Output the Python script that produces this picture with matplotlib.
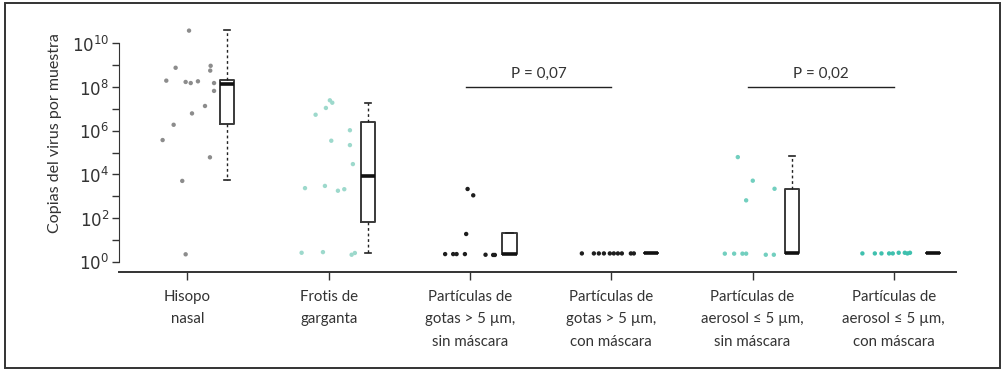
import numpy as np
import matplotlib
matplotlib.use('Agg')
import matplotlib.pyplot as plt
from matplotlib.patches import Rectangle

plt.rcParams['font.family'] = ['Lato', 'DejaVu Sans']

categories = ['Hisopo\nnasal', 'Frotis de\ngarganta',
              'Partículas de\ngotas > 5 µm,\nsin máscara',
              'Partículas de\ngotas > 5 µm,\ncon máscara',
              'Partículas de\naerosol ≤ 5 µm,\nsin máscara',
              'Partículas de\naerosol ≤ 5 µm,\ncon máscara']
colors = ['#8c8c8c', '#9dd9cc', '#1e1e1e', '#1e1e1e', '#72cfbf', '#3fc0ae']

# log10 copies per sample, with horizontal jitter
log_vals = [
    [10.58, 8.88, 8.29, 8.23, 8.18, 8.26, 8.97, 8.75, 8.18, 7.82, 7.13, 6.79, 6.27, 5.57, 4.78, 3.70, 0.34],
    [7.39, 7.28, 7.04, 6.73, 6.02, 5.54, 5.34, 4.47, 3.37, 3.47, 3.25, 3.32, 0.41, 0.44, 0.32, 0.40],
    [3.33, 3.04, 1.27, 0.35, 0.35, 0.35, 0.35, 0.32, 0.31, 0.31],
    [0.38, 0.38, 0.38, 0.38, 0.38, 0.38, 0.38, 0.38, 0.38, 0.38],
    [4.79, 3.71, 3.34, 2.81, 0.37, 0.37, 0.37, 0.37, 0.32, 0.32],
    [0.38, 0.38, 0.38, 0.38, 0.38, 0.41, 0.41, 0.38, 0.41],
]
jitter = [
    [0.011, -0.084, -0.150, -0.013, 0.023, 0.074, 0.164, 0.161, 0.188, 0.188, 0.124, 0.032, -0.098, -0.176, 0.159, -0.037, -0.013],
    [0.008, 0.025, -0.020, -0.093, 0.150, 0.018, 0.150, 0.171, -0.168, -0.027, 0.065, 0.110, -0.192, -0.041, 0.162, 0.185],
    [-0.017, 0.023, -0.027, -0.176, -0.119, -0.095, -0.036, 0.110, 0.164, 0.176],
    [-0.208, -0.123, -0.088, -0.052, -0.010, 0.018, 0.047, 0.075, 0.139, 0.160],
    [-0.104, 0.002, 0.156, -0.045, -0.196, -0.130, -0.071, -0.045, 0.094, 0.151],
    [-0.222, -0.134, -0.087, -0.033, -0.007, 0.035, 0.078, 0.097, 0.115],
]
# box stats in log10: whislo, q1, med, q3, whishi
whislo = [3.73, 0.40, 0.35, 0.38, 0.40, 0.38]
q1 = [6.32, 1.82, 0.35, 0.38, 0.40, 0.38]
med = [8.12, 3.92, 0.35, 0.38, 0.40, 0.38]
q3 = [8.32, 6.40, 1.30, 0.38, 3.33, 0.38]
whishi = [10.6, 7.27, 1.30, 0.38, 4.83, 0.38]

p_labels = ['P = 0,07', 'P = 0,02']
p_pairs = [(2, 3), (4, 5)]

fig = plt.figure(figsize=(10.04, 3.71), dpi=100)
ax = fig.add_axes([0.1185, 0.2668, 0.8336, 0.6795])

x = np.arange(len(categories))
for i in range(len(categories)):
    ax.scatter(x[i] + np.array(jitter[i]), log_vals[i], s=10, color=colors[i],
               edgecolors='none', zorder=3)

stats = []
for i in range(len(categories)):
    stats.append({'whislo': whislo[i], 'q1': q1[i], 'med': med[i],
                  'q3': q3[i], 'whishi': whishi[i], 'fliers': []})
ax.bxp(stats, positions=x + 0.28, widths=0.1, showfliers=False,
       boxprops=dict(color='#3a3a3a', linewidth=1.4),
       medianprops=dict(color='#111111', linewidth=2.6, solid_capstyle='butt'),
       whiskerprops=dict(color='#222222', linewidth=1.0, linestyle=(0, (2, 2))),
       capprops=dict(color='#222222', linewidth=1.2), capwidths=0.045,
       manage_ticks=False)

for (a, b), lab in zip(p_pairs, p_labels):
    ax.plot([a - 0.03, b], [8.01, 8.01], color='#222222', linewidth=1.0)
    ax.text((a - 0.03 + b) / 2, 8.59, lab, ha='center', va='center',
            fontsize=11, color='#333333')

ax.set_xlim(-0.485, 5.44)
ax.set_ylim(-0.471, 11.07)
ax.set_xticks(x)
ax.set_xticklabels(categories, fontsize=10.8, color='#333333', linespacing=1.75)
ax.set_yticks(np.arange(0, 11, 2))
ax.set_yticklabels(['$10^{%d}$' % v for v in range(0, 11, 2)], fontsize=12,
                   color='#333333')
ax.set_yticks(np.arange(1, 11, 2), minor=True)
ax.tick_params(axis='y', which='both', length=5, width=1, color='#333333', pad=2)
ax.tick_params(axis='x', length=6, width=1, color='#333333', pad=7)
ax.spines['top'].set_visible(False)
ax.spines['right'].set_visible(False)
ax.spines['left'].set_bounds(0, 10)
ax.spines['left'].set_color('#333333')
ax.spines['bottom'].set_color('#333333')
ax.spines['bottom'].set_linewidth(1.4)
ax.set_ylabel('Copias del virus por muestra', fontsize=11.5, color='#333333')
ax.yaxis.set_label_coords(-0.068, 0.55)

fig.add_artist(Rectangle((0.005, 0.008), 0.991, 0.983, transform=fig.transFigure,
                         fill=False, edgecolor='#333333', linewidth=1.4))

fig.savefig('out.png', dpi=100)
